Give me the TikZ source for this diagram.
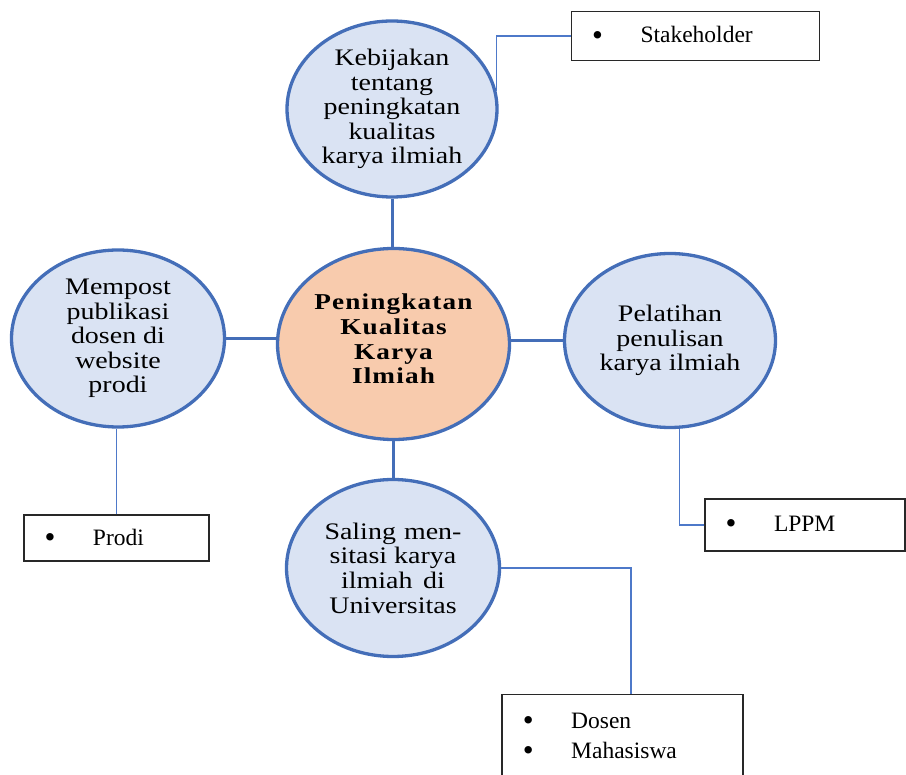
\documentclass[tikz,border=0pt]{standalone}
\usepackage{fontspec}
\setmainfont{Liberation Serif}
\newfontfamily\bubblefont[FakeStretch=1.18]{Liberation Serif}
\newfontfamily\corefont[FakeStretch=1.2,LetterSpace=5]{Liberation Serif}
\usetikzlibrary{shapes.geometric}

\definecolor{ringblue}{RGB}{68,110,184}
\definecolor{linkblue}{RGB}{78,121,201}
\definecolor{bubblefill}{RGB}{218,227,243}
\definecolor{corefill}{RGB}{248,203,173}
\definecolor{boxline}{RGB}{40,40,40}

% one bulleted entry inside a side box
\newcommand\bitem[1]{\hspace*{20.6pt}\makebox[48.4pt][l]{\raisebox{-2.3pt}{\fontsize{31}{31}\selectfont\textbullet}}#1}

\begin{document}
\begin{tikzpicture}[x=1pt,y=-1pt,
  bubble/.style={ellipse, draw=ringblue, line width=3.3pt, fill=bubblefill,
    inner sep=0pt, align=center,
    font=\bubblefont\fontsize{23.7}{24.6}\selectfont},
  hub/.style={ellipse, draw=ringblue, line width=3.3pt, fill=corefill, inner sep=0pt},
  hubtext/.style={align=center, inner sep=0pt,
    font=\corefont\bfseries\fontsize{22.7}{24.7}\selectfont},
  link/.style={draw=ringblue, line width=3pt},
  leader/.style={draw=linkblue, line width=1.2pt},
  tag/.style={rectangle, draw=boxline, line width=1.3pt, fill=white, inner sep=0pt,
    align=left, font=\fontsize{23.5}{30}\selectfont},
  listtext/.style={inner sep=0pt, align=left, font=\fontsize{23.5}{30}\selectfont}
]
\useasboundingbox (0,0) rectangle (906,775);

% central topic
\node[hub, minimum width=232pt, minimum height=191pt] (core) at (393.5,344) {};
\node[hubtext] (coretext) at (393.5,339) {Peningkatan\\Kualitas\\Karya\\Ilmiah};

% surrounding activities
\node[bubble, minimum width=210pt, minimum height=176pt] (top) at (392,109)
  {Kebijakan\\tentang\\peningkatan\\kualitas\\karya ilmiah};
\node[bubble, minimum width=213pt, minimum height=177pt] (left) at (118,338.5)
  {Mempost\\publikasi\\dosen di\\website\\prodi};
\node[bubble, minimum width=211pt, minimum height=174pt] (right) at (670,340.5)
  {Pelatihan\\penulisan\\karya ilmiah};
\node[bubble, minimum width=213pt, minimum height=177pt] (bottom) at (393,568)
  {\makebox[137pt][s]{Saling men-}\\sitasi karya\\\makebox[104pt][s]{ilmiah di}\\Universitas};

% actors in charge
\node[tag, text width=248pt, minimum height=49pt] (stake) at (695.5,36) {\bitem{Stakeholder}};
\node[tag, text width=185pt, minimum height=46pt] (prodi) at (116.5,538) {\bitem{Prodi}};
\node[tag, text width=200pt, minimum height=52pt] (lppm) at (805,525) {\bitem{LPPM}};
\node[tag, text width=241pt, minimum height=100pt, anchor=north] (dosen) at (622.5,694) {};
\node[listtext, text width=241pt, anchor=north west] (dosenlist) at (502,712.5)
  {\bitem{Dosen}\\\bitem{Mahasiswa}};

% thick spokes from the centre
\draw[link] (top.south) -- (top.south |- core.north);
\draw[link] (left.east) -- (left.east -| core.west);
\draw[link] (right.west) -- (right.west -| core.east);
\draw[link] (core.south) -- (core.south |- bottom.north);

% thin leaders to the boxes
\coordinate (dosenlink) at (631,694);
\draw[leader] (stake.west) -| (top.10);
\draw[leader] (prodi.north) -- (prodi.north |- left.south);
\draw[leader] (lppm.west) -| (right.-84);
\draw[leader] (bottom.east) -| (dosenlink);
\end{tikzpicture}
\end{document}
